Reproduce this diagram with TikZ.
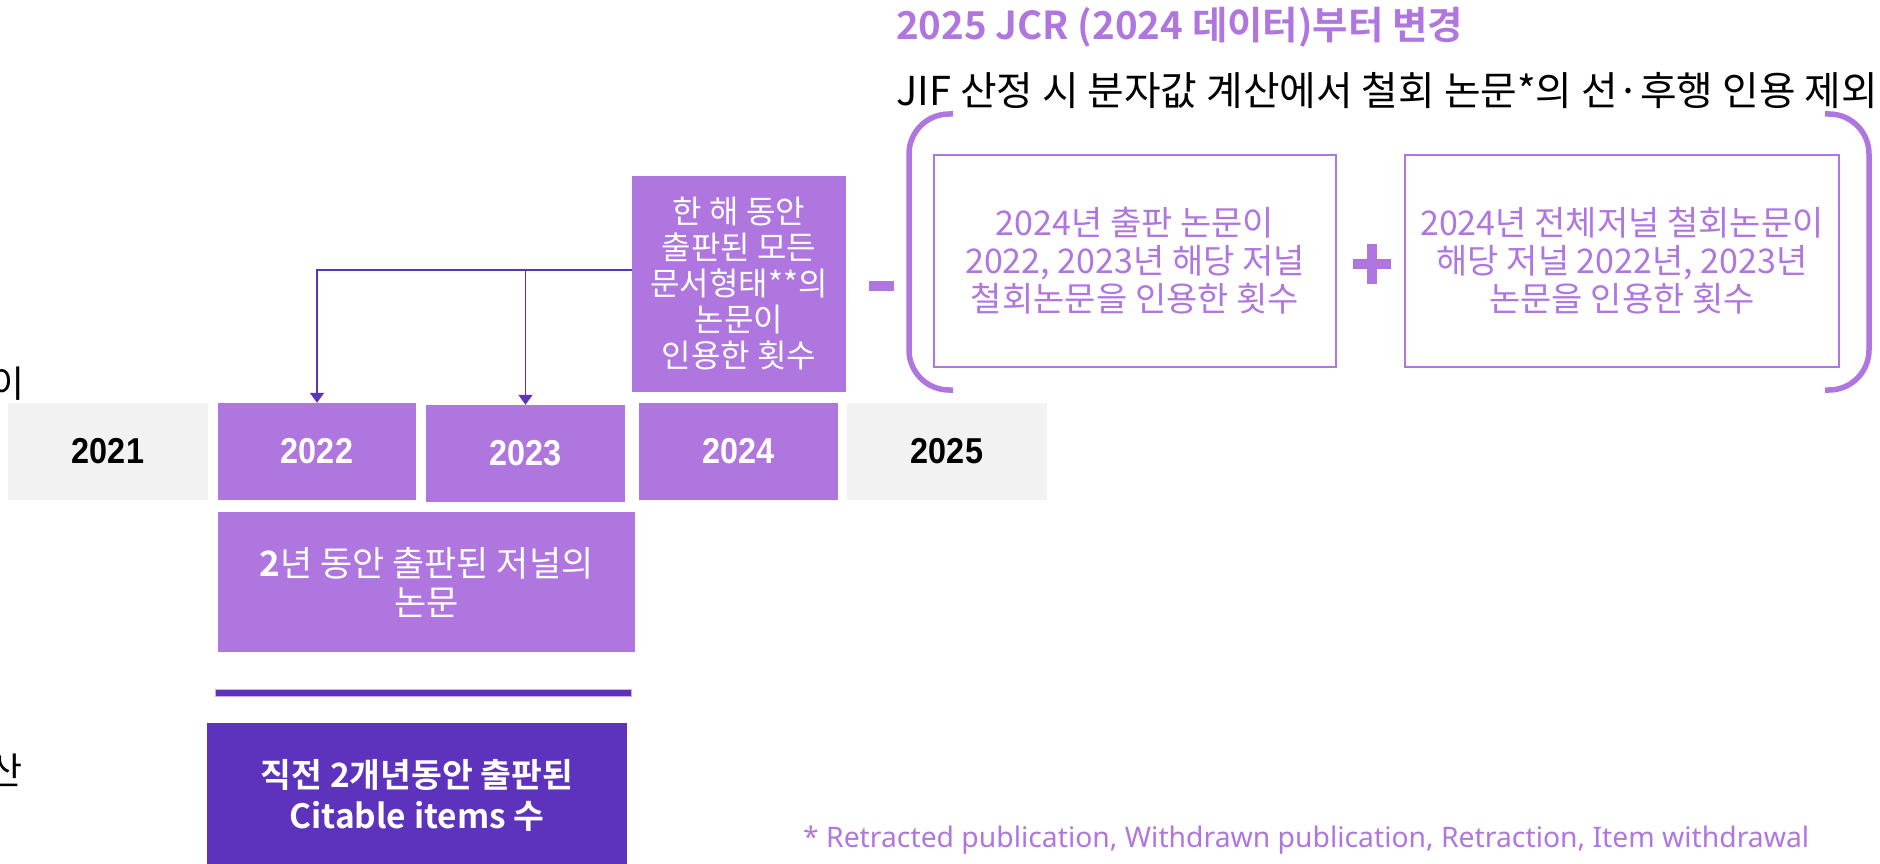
\documentclass[tikz,border=0pt]{standalone}
\usepackage{fontspec}
\setmainfont{Noto Sans CJK KR}[BoldFont={Noto Sans CJK KR Bold}]
\newfontfamily\fnfont{Noto Sans}
\newfontfamily\yrfont[FakeStretch=0.9]{Liberation Sans}
\usetikzlibrary{arrows.meta}
\definecolor{lp}{RGB}{176,118,224}
\definecolor{dp}{RGB}{93,51,189}
\definecolor{gy}{RGB}{242,242,242}
\begin{document}
\begin{tikzpicture}[x=1pt,y=-1pt,
  yearbox/.style={rectangle, inner sep=0pt, minimum height=97pt,
     font=\yrfont\bfseries\fontsize{36}{40}\selectfont},
  graybox/.style={yearbox, fill=gy, text=black},
  purplebox/.style={yearbox, fill=lp, text=white},
  outbox/.style={rectangle, draw=lp, line width=2.5pt, inner sep=0pt,
     minimum width=#1, minimum height=212pt, align=center, text=lp,
     font=\fontsize{34}{38}\selectfont},
  paren/.style={draw=lp, line width=5.5pt, rounded corners=40pt},
  arr/.style={draw=dp, line width=1.8pt, -{Triangle[width=14pt,length=10pt]}},
  bar/.style={rectangle, inner sep=0pt, fill=#1}
]
\useasboundingbox (0,0) rectangle (1880,864);

% cut-off left texts (cut at the edge as in the reference)
\node[anchor=east, inner sep=0pt, font=\fontsize{37}{40}\selectfont] (cutA) at (25,384) {이};
\node[anchor=east, inner sep=0pt, font=\fontsize{37}{40}\selectfont] (cutB) at (23,770) {산};

% title and subtitle
\node[anchor=west, inner sep=0pt, text=lp, font=\bfseries\fontsize{38.5}{42}\selectfont] (title) at (896,27) {2025 JCR (2024 데이터)부터 변경};
\node[anchor=west, inner sep=0pt, text=black, font=\fontsize{39.8}{42}\selectfont] (sub) at (896,91) {JIF 산정 시 분자값 계산에서 철회 논문*의 선·후행 인용 제외};

% year boxes
\node[graybox, minimum width=200pt] (y2021) at (108,451.5) {2021};
\node[purplebox, minimum width=198pt] (y2022) at (317,451.5) {2022};
\node[purplebox, minimum width=199pt] (y2023) at (525.5,453.5) {2023};
\node[purplebox, minimum width=199pt] (y2024) at (738.5,451.5) {2024};
\node[graybox, minimum width=200pt] (y2025) at (947,451.5) {2025};

% citing box
\node[rectangle, fill=lp, text=white, inner sep=0pt, minimum width=214pt, minimum height=216pt,
  align=center, font=\fontsize{32}{36}\selectfont] (cite) at (739,284)
  {한 해 동안\\출판된 모든\\문서형태**의\\논문이\\인용한 횟수};

% arrows
\draw[arr] ([yshift=14pt]cite.west) -| (y2022.north);
\draw[arr] ([yshift=14pt]cite.west) -| (y2023.north);

% minus
\node[bar=lp, minimum width=25pt, minimum height=10pt] (minus) at (881.5,286) {};

% boxes in parentheses
\node[outbox=402pt] (box1) at (1135,261) {2024년 출판 논문이\\2022, 2023년 해당 저널\\철회논문을 인용한 횟수};
\node[outbox=434pt] (box2) at (1622,261) {2024년 전체저널 철회논문이\\해당 저널 2022년, 2023년\\논문을 인용한 횟수};

% plus
\node[bar=lp, minimum width=38pt, minimum height=10pt] (plusH) at (1372,264) {};
\node[bar=lp, minimum width=10pt, minimum height=40pt] (plusV) at (1372,264) {};

% parentheses
\draw[paren] (953,114) -- (909,114) -- (909,390) -- (953,390);
\draw[paren] (1825,114) -- (1869,114) -- (1869,390) -- (1825,390);

% 2-year box
\node[rectangle, fill=lp, text=white, inner sep=0pt, minimum width=417pt, minimum height=140pt,
  align=center, font=\fontsize{35}{39}\selectfont] (pub) at (426.5,582)
  {{\bfseries 2}년 동안 출판된 저널의\\논문};

% divider
\node[bar=dp, draw=lp!60, line width=0.6pt, minimum width=416pt, minimum height=7pt] (div) at (423,692.5) {};

% denominator box
\node[rectangle, fill=dp, inner sep=0pt, minimum width=420pt, minimum height=147pt] (den) at (417,796.5) {};
\node[text=white, align=center, inner sep=0pt, font=\bfseries\fontsize{33.5}{41}\selectfont] (denT) at (417,795)
  {직전 2개년동안 출판된\\Citable items 수};

% footnote
\node[anchor=west, inner sep=0pt, text=lp, font=\fnfont\fontsize{28.3}{32}\selectfont] (foot) at (803,840)
  {* Retracted publication, Withdrawn publication, Retraction, Item withdrawal};
\end{tikzpicture}
\end{document}
